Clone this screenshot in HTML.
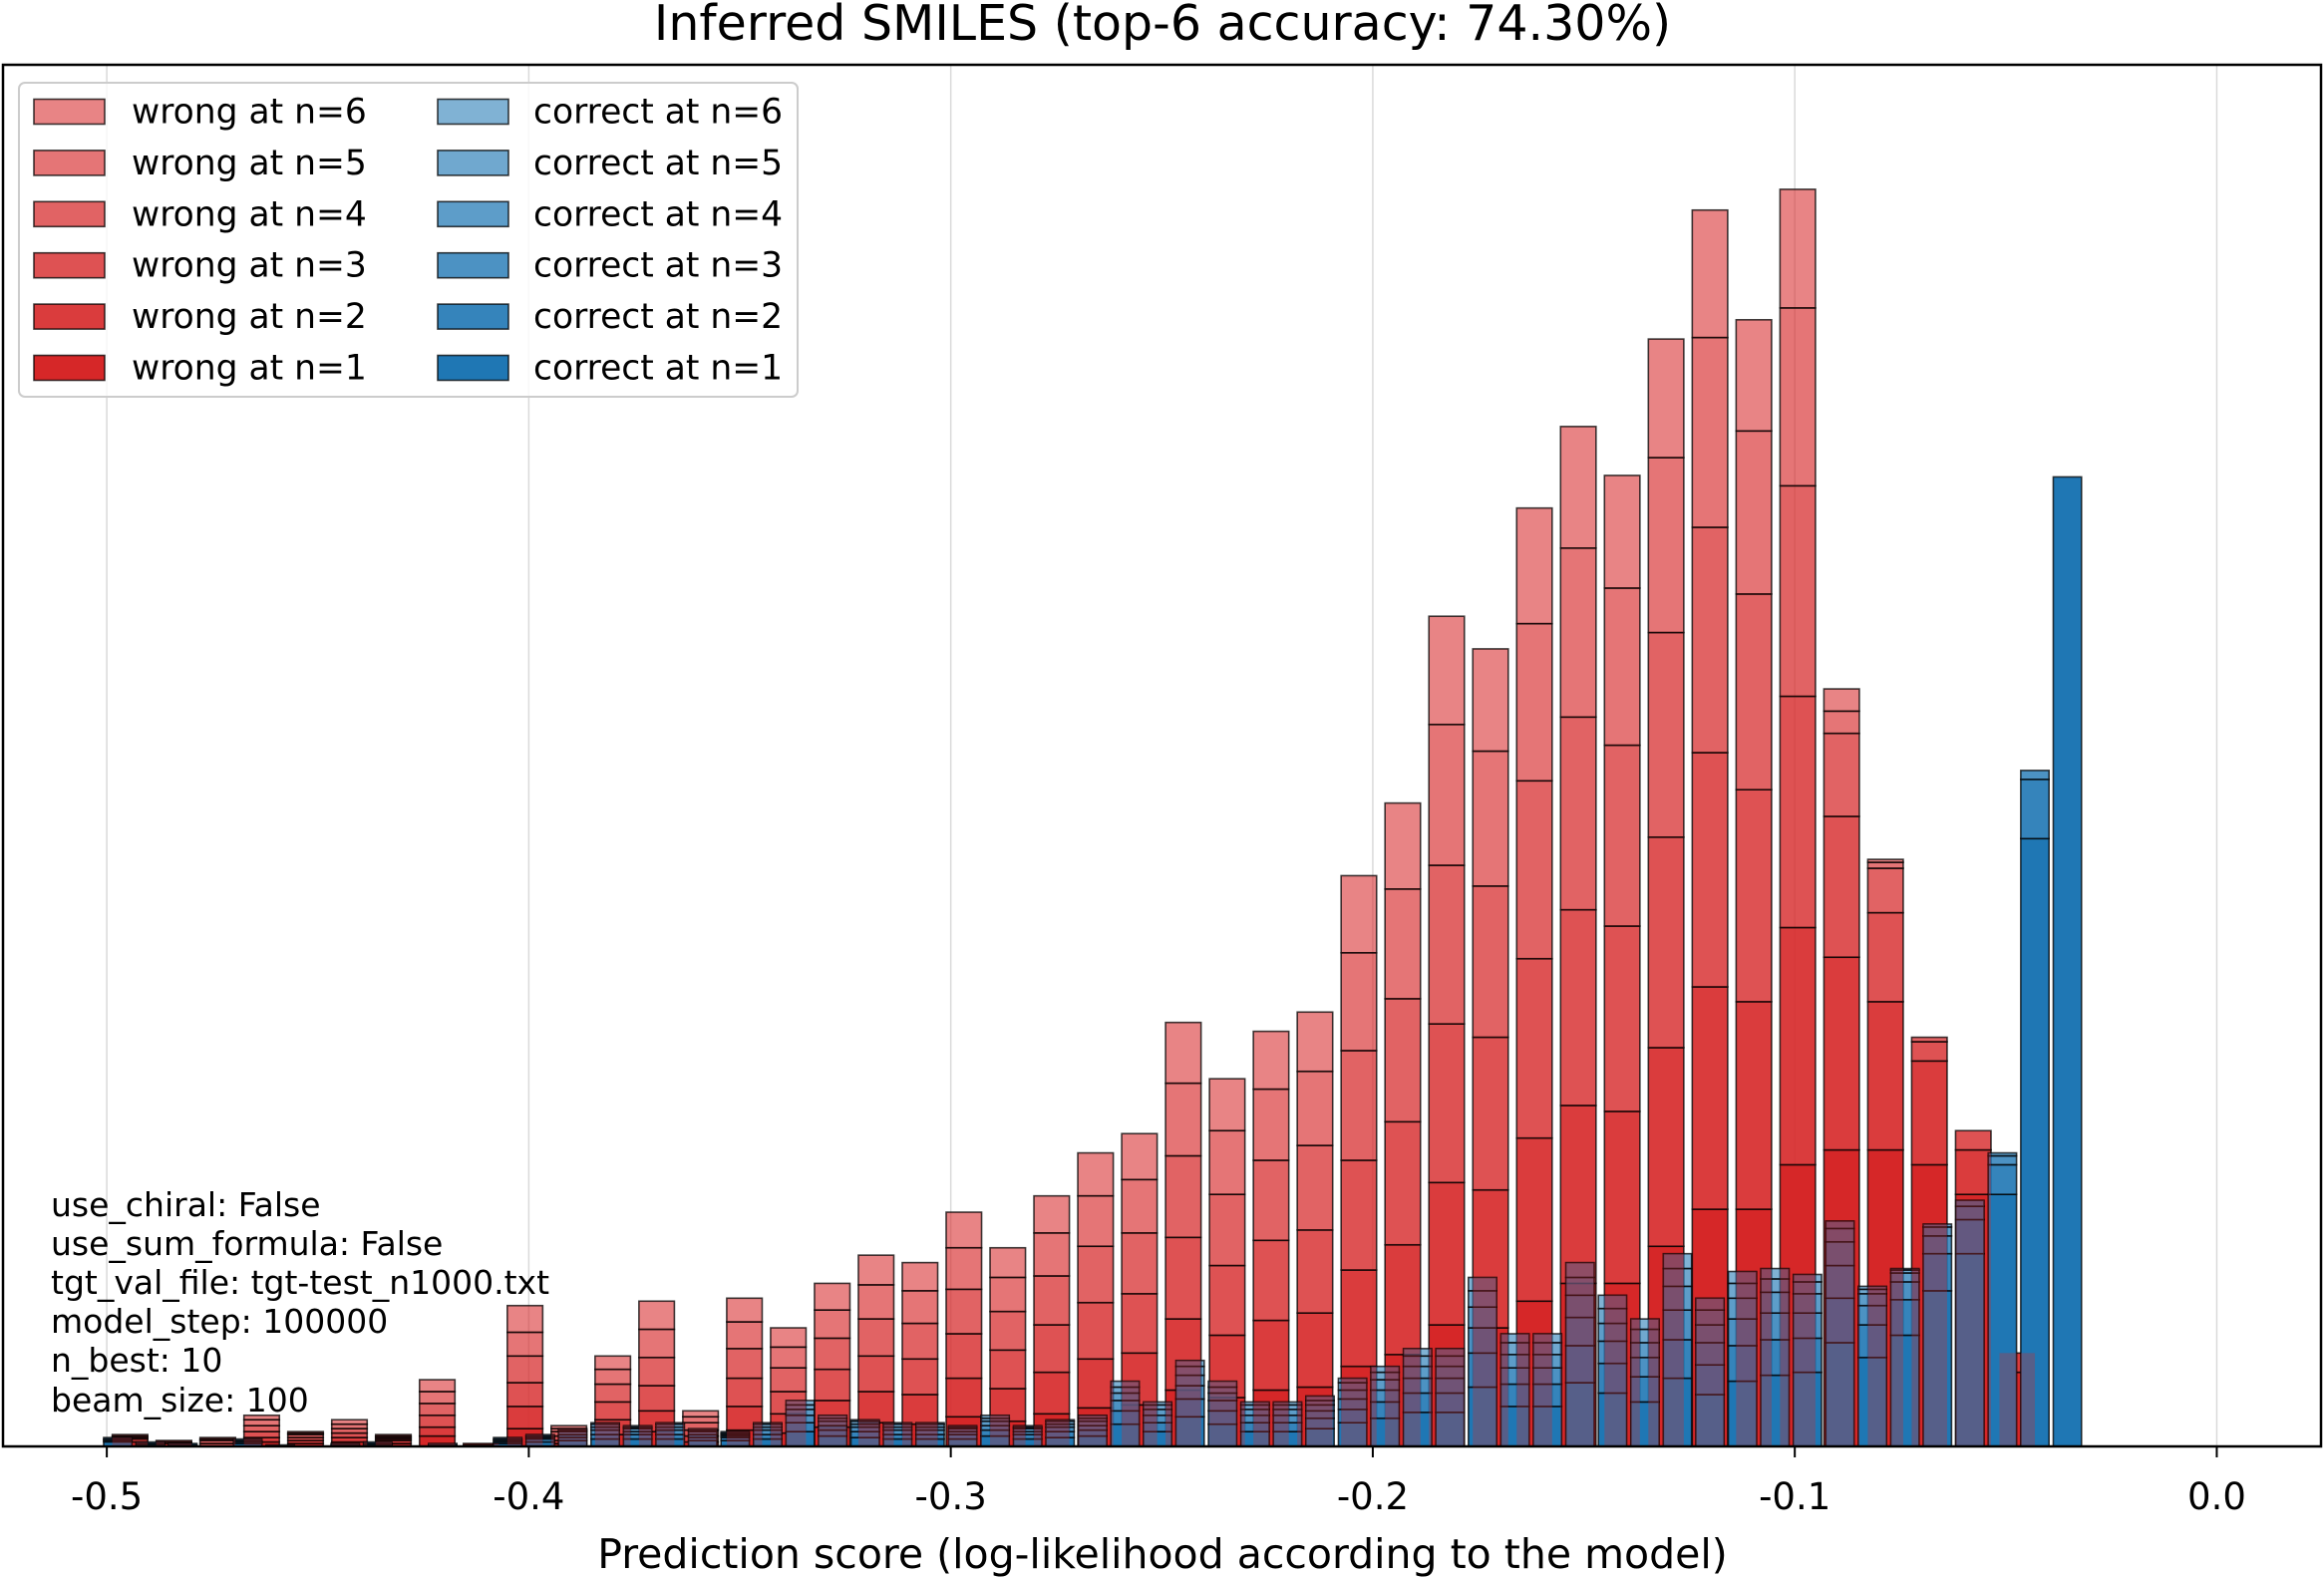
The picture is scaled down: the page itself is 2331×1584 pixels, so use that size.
<!DOCTYPE html>
<html><head><meta charset="utf-8"><style>
html,body{margin:0;padding:0;background:#fff;}
svg{display:block;font-family:"DejaVu Sans","Liberation Sans",sans-serif;}
</style></head><body>
<svg id="chart" width="2331" height="1584" viewBox="0 0 2331 1584" xmlns="http://www.w3.org/2000/svg">
<defs><clipPath id="blueClip"></clipPath></defs>
<rect x="0" y="0" width="2331" height="1584" fill="#fff"/>
<text x="1166" y="40" font-size="49" text-anchor="middle" fill="#000">Inferred SMILES (top-6 accuracy: 74.30%)</text>
<g id="grid"></g>
<g id="bars"></g>
<g id="overlay" clip-path="url(#blueClip)"></g>
<rect x="3" y="65" width="2325" height="1386" fill="none" stroke="#000" stroke-width="2.5"/>
<g id="xticks"></g>
<text x="1166" y="1573" font-size="41" text-anchor="middle" fill="#000">Prediction score (log-likelihood according to the model)</text>
<g font-size="33" fill="#000">
<text x="51" y="1220">use_chiral: False</text>
<text x="51" y="1259">use_sum_formula: False</text>
<text x="51" y="1298">tgt_val_file: tgt-test_n1000.txt</text>
<text x="51" y="1337">model_step: 100000</text>
<text x="51" y="1376">n_best: 10</text>
<text x="51" y="1416">beam_size: 100</text>
</g>
<g id="legend"></g>
</svg>
<script>
// ---- data ----
const xTickValues = [-0.5, -0.4, -0.3, -0.2, -0.1, 0.0];
const xTickLabels = ["-0.5", "-0.4", "-0.3", "-0.2", "-0.1", "0.0"];
const nLabels = [1, 2, 3, 4, 5, 6];
// wrong predictions, stacked counts per bin (44 bins), n=1..6
const wrongN1 = [.3,.2,0,.3,.2,.3,.2,.7,.1,1.2,.2,.8,1.0,.3,1.1,.9,1.3,1.6,1.5,2.0,1.7,2.2,2.6,2.8,3.8,3.3,3.8,4.0,5.4,6.2,8.2,8.0,9.8,11.0,11.0,13.5,16.0,16.0,19.0,20.0,20.0,19.0,17.0,5.0];
const wrongN2 = [.2,.1,0,.3,.2,.3,.2,.6,.1,1.5,.2,1.0,1.4,.4,1.6,1.3,1.8,2.1,2.0,2.6,2.2,2.8,3.3,3.5,4.8,4.2,4.7,5.0,6.5,7.4,9.6,9.3,11.0,12.0,11.6,13.4,15.0,14.0,16.0,13.0,10.0,7.0,3.0,1.3];
const wrongN3 = [.1,.1,.2,.4,.2,.3,.1,.8,0,1.6,.3,1.2,1.7,.4,1.9,1.5,2.1,2.4,2.4,3.0,2.6,3.2,3.8,4.0,5.5,4.7,5.4,5.6,7.4,8.3,10.7,10.3,12.1,13.2,12.5,14.2,15.8,14.3,15.6,9.5,6.0,1.3,1.3,0];
const wrongN4 = [.1,0,.2,.4,.2,.3,.1,.8,0,1.8,.3,1.2,1.9,.5,2.0,1.6,2.1,2.5,2.4,3.0,2.6,3.3,3.8,4.1,5.5,4.8,5.4,5.7,7.4,8.3,10.7,10.2,12.0,13.0,12.2,13.8,15.2,13.2,14.2,5.6,3.0,.3,0,0];
const wrongN5 = [.1,0,.1,.4,.1,.3,.1,.8,0,1.6,.2,1.0,1.9,.4,1.8,1.4,1.9,2.3,2.2,2.8,2.3,2.9,3.4,3.6,4.9,4.3,4.8,5.0,6.6,7.4,9.5,9.1,10.6,11.4,10.6,11.8,12.8,11.0,12.0,1.5,.4,0,0,0];
const wrongN6 = [0,0,.1,.3,.1,.3,.1,.8,0,1.8,.2,.9,1.9,.4,1.6,1.3,1.8,2.0,1.9,2.4,2.0,2.5,2.9,3.1,4.1,3.5,3.9,4.0,5.2,5.8,7.3,6.9,7.8,8.2,7.6,8.0,8.6,7.5,8.0,1.5,.2,0,0,0];
// correct predictions, stacked counts per bin (61 bins), n=1..6
const correctN1 = [.3,.1,.1,0,.2,.1,0,.1,.1,0,.1,0,.2,.3,.4,.5,.5,.5,.4,.4,.5,1.0,.7,.6,.5,.5,.5,.7,.5,.6,.7,1.5,1.0,2.0,1.5,1.0,1.0,1.2,1.6,1.9,2.3,2.3,4.0,2.7,2.7,4.3,3.6,3.0,4.6,3.5,4.4,4.8,5.0,7.0,6.0,7.5,10.5,13.0,17.0,41.0,65.4];
const correctN2 = [.1,.1,.1,0,.1,0,0,.1,.1,0,.1,0,.1,.2,.2,.3,.3,.3,.2,.2,.3,.6,.4,.4,.3,.3,.3,.4,.3,.4,.4,.9,.6,1.2,.9,.6,.6,.7,.9,1.1,1.3,1.3,2.3,1.5,1.5,2.5,2.0,1.7,2.6,2.0,2.4,2.4,2.3,3.0,2.2,2.4,2.5,2.3,2.0,4.0,0];
const correctN3 = [.1,.1,0,0,.1,0,0,0,.1,0,0,0,.1,.1,.2,.3,.2,.3,.2,.1,.3,.5,.3,.3,.3,.3,.2,.3,.2,.3,.3,.7,.5,.9,.7,.5,.5,.5,.7,.8,1.0,1.0,1.7,1.1,1.1,1.9,1.5,1.3,2.0,1.5,1.8,1.8,1.7,2.2,1.3,1.2,1.2,.9,.6,.6,0];
const correctN4 = [.1,0,0,0,.1,0,0,0,0,0,0,0,.1,.1,.2,.2,.2,.2,.2,.1,.2,.4,.3,.2,.2,.2,.2,.3,.2,.2,.3,.5,.4,.7,.5,.4,.4,.4,.6,.7,.8,.8,1.4,.9,.9,1.5,1.2,1.0,1.6,1.2,1.4,1.4,1.3,1.6,.8,.6,.6,.4,.2,0,0];
const correctN5 = [0,0,0,0,0,0,0,0,0,0,0,0,.1,.1,.1,.2,.1,.2,.1,.1,.2,.3,.2,.2,.2,.2,.1,.2,.1,.2,.2,.4,.3,.6,.4,.3,.3,.3,.5,.5,.7,.7,1.1,.8,.8,1.2,1.0,.9,1.2,1.0,1.0,.9,.8,.9,.3,.2,.2,0,0,0,0];
const correctN6 = [0,0,0,0,0,0,0,0,0,0,0,0,0,0,.1,.1,.1,.1,.1,.1,.1,.3,.2,.1,.1,.1,.1,.2,.1,.1,.2,.4,.2,.4,.4,.2,.2,.3,.3,.4,.5,.5,.9,.6,.6,1.0,.9,.7,1.0,.8,.8,.7,.5,.5,.2,.1,0,0,0,0,0];

// ---- geometry ----
const NS = "http://www.w3.org/2000/svg";
const plotL = 3, plotR = 2328, plotT = 65, plotB = 1451;
const xMin = -0.5246, xMax = 0.0247;
const yMax = 93.2;
const xs = v => plotL + (v - xMin) / (xMax - xMin) * (plotR - plotL);
const ys = v => plotB - v / yMax * (plotB - plotT);
const wrongStart = -0.4945, wrongStep = 0.0104, wrongWidth = 0.0084;
const correctStart = -0.4974, correctStep = 0.0077, correctWidth = 0.0067;
const wrongSeries = [wrongN1, wrongN2, wrongN3, wrongN4, wrongN5, wrongN6];
const correctSeries = [correctN1, correctN2, correctN3, correctN4, correctN5, correctN6];
const alphas = [1, 0.9, 0.8, 0.72, 0.64, 0.57];

function mk(tag, attrs, parent) {
  const e = document.createElementNS(NS, tag);
  for (const k in attrs) e.setAttribute(k, attrs[k]);
  parent.appendChild(e);
  return e;
}

const grid = document.getElementById('grid');
const xt = document.getElementById('xticks');
xTickValues.forEach((v, i) => {
  const x = xs(v);
  const gl = mk('line', {x1: x, x2: x, y1: plotT, y2: plotB, stroke: '#d9d9d9', 'stroke-width': 1.5}, grid);
  
  
  const tk = mk('line', {x1: x, x2: x, y1: plotB, y2: plotB + 11, stroke: '#000', 'stroke-width': 2}, xt);
  
  
  const tl = mk('text', {x: x, y: plotB + 63, 'font-size': 37, 'text-anchor': 'middle', fill: '#000'}, xt);
  tl.textContent = xTickLabels[i];
  
  
});

const bars = document.getElementById('bars');
function drawStack(series, start, step, width, color, prefix) {
  const nb = series[0].length;
  for (let b = 0; b < nb; b++) {
    const c = start + b * step;
    let base = 0;
    for (let s = 0; s < series.length; s++) {
      const v = series[s][b];
      if (v <= 0) continue;
      const x0 = xs(c - width / 2), x1 = xs(c + width / 2);
      const y0 = ys(base + v), y1 = ys(base);
      const r = mk('rect', {x: x0, y: y0, width: x1 - x0, height: y1 - y0, fill: color, 'fill-opacity': alphas[s], stroke: '#000', 'stroke-opacity': 0.75, 'stroke-width': 1.6}, bars);
      
      
      base += v;
    }
  }
}
drawStack(wrongSeries, wrongStart, wrongStep, wrongWidth, '#d62728', 'wrong');
drawStack(correctSeries, correctStart, correctStep, correctWidth, '#1f77b4', 'correct');

// clip region = area covered by correct bars
const clip = document.getElementById('blueClip');
for (let b = 0; b < correctN1.length; b++) {
  let tot = 0;
  correctSeries.forEach(s => { tot += s[b]; });
  if (tot <= 0) continue;
  const c = correctStart + b * correctStep;
  mk('rect', {x: xs(c - correctWidth / 2), y: ys(tot), width: xs(c + correctWidth / 2) - xs(c - correctWidth / 2), height: ys(0) - ys(tot)}, clip);
}
// translucent red tint of wrong totals, visible only where correct bars overlap
const ov = document.getElementById('overlay');
for (let b = 0; b < wrongN1.length; b++) {
  let tot = 0;
  wrongSeries.forEach(s => { tot += s[b]; });
  if (tot <= 0) continue;
  const c = wrongStart + b * wrongStep;
  const x0 = xs(c - wrongWidth / 2), x1 = xs(c + wrongWidth / 2);
  const t = mk('rect', {x: x0, y: ys(tot), width: x1 - x0, height: ys(0) - ys(tot), fill: '#d62728', 'fill-opacity': 0.3}, ov);
  
  
}

// legend
const lg = document.getElementById('legend');
const box = mk('rect', {x: 19, y: 83, width: 781, height: 315, rx: 6, fill: '#fff', 'fill-opacity': 0.8, stroke: '#cccccc', 'stroke-width': 2}, lg);


for (let i = 0; i < 6; i++) {
  const n = 6 - i;
  const cy = 111.5 + i * 51.4;
  [[34, 132, '#d62728', 'wrong at n=' + n, 'wrong'], [439, 535, '#1f77b4', 'correct at n=' + n, 'correct']].forEach(col => {
    const p = mk('rect', {x: col[0], y: cy - 12, width: 71, height: 25, fill: col[2], 'fill-opacity': alphas[n - 1], stroke: '#000', 'stroke-opacity': 0.75, 'stroke-width': 1.6}, lg);
    
    
    const t = mk('text', {x: col[1], y: cy + 12, 'font-size': 34.5, fill: '#000'}, lg);
    t.textContent = col[3];
    
    
  });
}
</script>
</body></html>
